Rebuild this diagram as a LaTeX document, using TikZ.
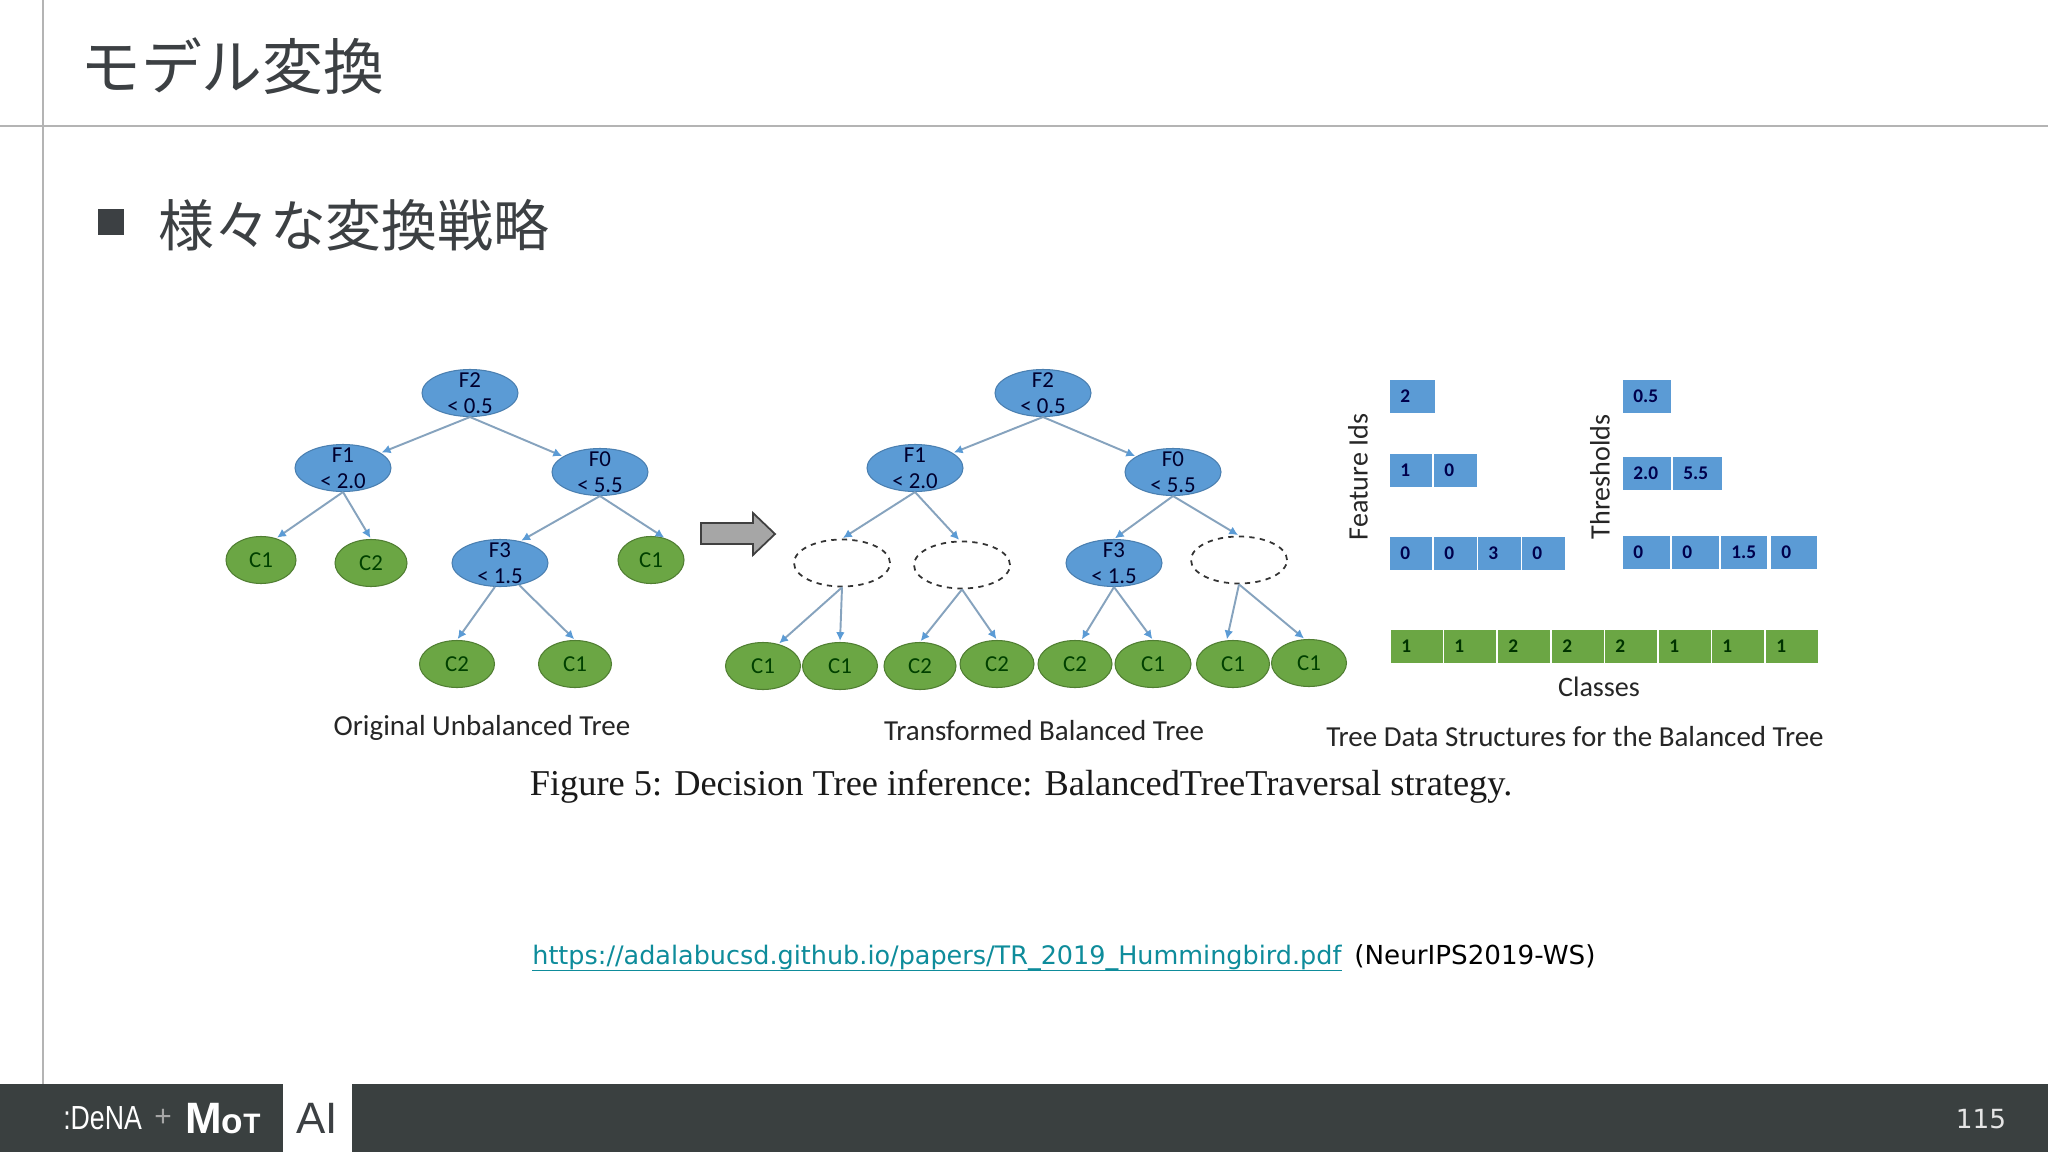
\documentclass[tikz,border=0pt]{standalone}
\usepackage{fontspec}
\setmainfont{Carlito}
\newfontfamily\jpfont{Noto Sans CJK JP}
\newfontfamily\capfont{Liberation Serif}
\newfontfamily\urlfont{DejaVu Sans}
\newfontfamily\logofont{Liberation Sans}
\usetikzlibrary{arrows.meta,shapes.geometric}

\definecolor{splitblue}{HTML}{5B9BD5}
\definecolor{splitline}{HTML}{4A7FB0}
\definecolor{leafgreen}{HTML}{6BA644}
\definecolor{leafline}{HTML}{507E32}
\definecolor{edgegray}{HTML}{86A3BE}
\definecolor{footdark}{HTML}{3A4040}
\definecolor{rulegray}{HTML}{B4B4B4}
\definecolor{inkdark}{HTML}{3C4043}
\definecolor{linkteal}{HTML}{0E8C9B}
\def\px{0.02cm}

\tikzset{
	edge/.style={edgegray, line width=1.1pt, shorten >=0.6pt, -{Latex[length=5pt,width=5pt,color=splitblue]}},
	splitnode/.style={ellipse, fill=splitblue, draw=splitline, line width=0.6pt, inner xsep=0pt, inner ysep=-3.5pt, minimum width=96*\px, minimum height=47*\px, align=center, text=black!70!blue!60!black, font=\fontsize{13}{14.8}\selectfont},
	leafnode/.style={ellipse, fill=leafgreen, draw=leafline, line width=0.6pt, inner sep=0pt, minimum width=#1*\px, minimum height=47*\px, text=green!25!black, font=\fontsize{13}{14.8}\selectfont},
	gapnode/.style={ellipse, fill=white, draw=black!80, dashed, line width=1pt, inner sep=0pt, minimum width=96*\px, minimum height=47*\px},
	cell/.style={rectangle, anchor=west, fill=#1, inner ysep=0pt, inner xsep=10*\px, minimum height=33*\px, align=left, font=\fontsize{11}{12}\selectfont\bfseries},
	bluecell/.style={cell=splitblue, text=blue!30!black},
	greencell/.style={cell=leafgreen, text=green!20!black},
	plotlabel/.style={text=black!85, inner sep=0pt, font=\fontsize{16}{19}\selectfont},
	treelabel/.style={text=black!85, inner sep=0pt, font=\fontsize{16.5}{19}\selectfont}
}

\begin{document}
\begin{tikzpicture}[x=\px, y=-\px]
	\useasboundingbox (0, 0) rectangle (2048, 1152);
	\fill[white]	(0, 0) rectangle (2048, 1152);

	\draw[rulegray, line width=1.6pt]	(43, 0) to (43, 1084);
	\draw[rulegray, line width=1.6pt]	(0, 126) to (2048, 126);
	\fill[footdark]	(0, 1084) rectangle (2048, 1152);
	\fill[white]	(283, 1084) rectangle (352, 1152);
	\fill[inkdark]	(98, 209) rectangle (124, 235);

	\node[anchor=west, inner sep=0pt, text=inkdark, font=\jpfont\fontsize{34.6}{40}\selectfont] (title) at (80, 66) {モデル変換};
	\node[anchor=west, inner sep=0pt, text=inkdark, font=\jpfont\fontsize{31.8}{38}\selectfont] (bullet) at (158, 225) {様々な変換戦略};

	\foreach \n/\x/\y/\t in {F2/470/393/F2\\< 0.5, F1/343/468/F1\\< 2.0, F0/600/472/F0\\< 5.5, F3/500/563/F3\\< 1.5, Ftwo/1043/393/F2\\< 0.5, Fone/915/468/F1\\< 2.0, Fzero/1173/472/F0\\< 5.5, Fthree/1114/563/F3\\< 1.5}
		\node[splitnode] (\n) at (\x, \y) {\t};

	\foreach \n/\x/\y in {gapa/842/563, gapb/962/565, gapc/1239/560}
		\node[gapnode] (\n) at (\x, \y) {};

	\foreach \n/\x/\y/\w/\t in {oa/261/560/70/C1, ob/371/563/72/C2, oc/651/560/66/C1, od/457/664/75/C2, oe/575/664/73/C1, la/763/666/75/C1, lb/840/666/75/C1, lc/920/666/72/C2, ld/997/664/74/C2, le/1075/664/74/C2, lf/1153/664/76/C1, lg/1233/664/73/C1, lh/1309/663/75/C1}
		\node[leafnode=\w] (\n) at (\x, \y) {\t};

	\foreach \a/\b in {F2.south/F1, F2.south/F0, F1.south/oa.55, F1.south/ob.north, F0.south/F3.47, F0.south/oc.57, F3.258/od.north, F3.-49/oe.north, Ftwo.south/Fone, Ftwo.south/Fzero, Fone.south/gapa.north, Fone.south/gapb.95, Fzero.south/Fthree.north, Fzero.south/gapc.north, gapa.south/la.55, gapa.south/lb.north, gapb.south/lc.north, gapb.south/ld.north, Fthree.south/le.75, Fthree.south/lf.north, gapc.south/lg.105, gapc.south/lh.100}
		\draw[edge]	(\a) -- (\b);

	\draw[fill=black!35, draw=black!75, line width=1pt]	(701, 523) -- (753, 523) -- (753, 513) -- (775, 534) -- (753, 555) -- (753, 544) -- (701, 544) -- cycle;

	\foreach \n/\x/\w/\y/\t in {fa/1390/45/396/2, fb/1390/42/470/1, fc/1434/43/470/0, fd/1390/42/553/0, fe/1434/43/553/0, ff/1478/43/553/3, fg/1522/43/553/0, ta/1623/48/396/0.5, tb/1623/48/473/2.0, tc/1673/49/473/5.5, td/1623/47/552/0, te/1672/47/552/0, tf/1721/46/552/1.5, tg/1771/46/552/0}
		\node[bluecell, text width=(\w-20)*\px] (\n) at (\x, \y) {\t};

	\foreach \n/\x/\t in {ca/1391/1, cb/1444/1, cc/1498/2, cd/1552/2, ce/1605/2, cf/1659/1, cg/1712/1, ch/1766/1}
		\node[greencell, text width=31.5*\px] (\n) at (\x, 646) {\t};

	\node[plotlabel, rotate=90] (featureids) at (1358, 477) {Feature Ids};
	\node[plotlabel, rotate=90] (thresholds) at (1600, 477) {Thresholds};
	\node[plotlabel] (classes) at (1599, 687) {Classes};
	\node[treelabel] (original) at (482, 728) {Original Unbalanced Tree};
	\node[treelabel] (balanced) at (1044, 731) {Transformed Balanced Tree};
	\node[treelabel] (structures) at (1575, 737) {Tree Data Structures for the Balanced Tree};

	\node[inner sep=0pt, text=black!90, font=\capfont\fontsize{20.7}{24}\selectfont] (caption) at (1021, 787) {Figure 5: Decision Tree inference: BalancedTreeTraversal strategy.};

	\node[anchor=base west, inner sep=0pt, text=linkteal, font=\urlfont\fontsize{14.5}{18}\selectfont] (source) at (532, 964) {https://adalabucsd.github.io/papers/TR\_2019\_Hummingbird.pdf};
	\node[anchor=base west, inner sep=0pt, font=\urlfont\fontsize{14.9}{18}\selectfont] (venue) at (1354, 964) {(NeurIPS2019-WS)};
	\draw[linkteal, line width=0.7pt]	(source.south west) -- (source.south east);

	\node[anchor=west, inner sep=0pt, text=white, transform shape, xscale=0.8, font=\logofont\fontsize{19}{22}\selectfont] (dena) at (63, 1118) {:DeNA};
	\node[inner sep=0pt, text=black!35, font=\logofont\fontsize{17}{20}\selectfont] (plus) at (163, 1118) {+};
	\node[anchor=base west, inner sep=0pt, text=white, font=\logofont\bfseries\fontsize{25}{30}\selectfont] (mot) at (185, 1133) {M{\fontsize{20}{24}\selectfont o}{\fontsize{16}{20}\selectfont T}};
	\node[inner sep=0pt, text=inkdark, font=\logofont\fontsize{25}{30}\selectfont] (ai) at (317, 1118) {AI};
	\node[inner sep=0pt, text=black!10, font=\urlfont\fontsize{15}{18}\selectfont] (pageno) at (1981, 1119) {115};
\end{tikzpicture}
\end{document}
